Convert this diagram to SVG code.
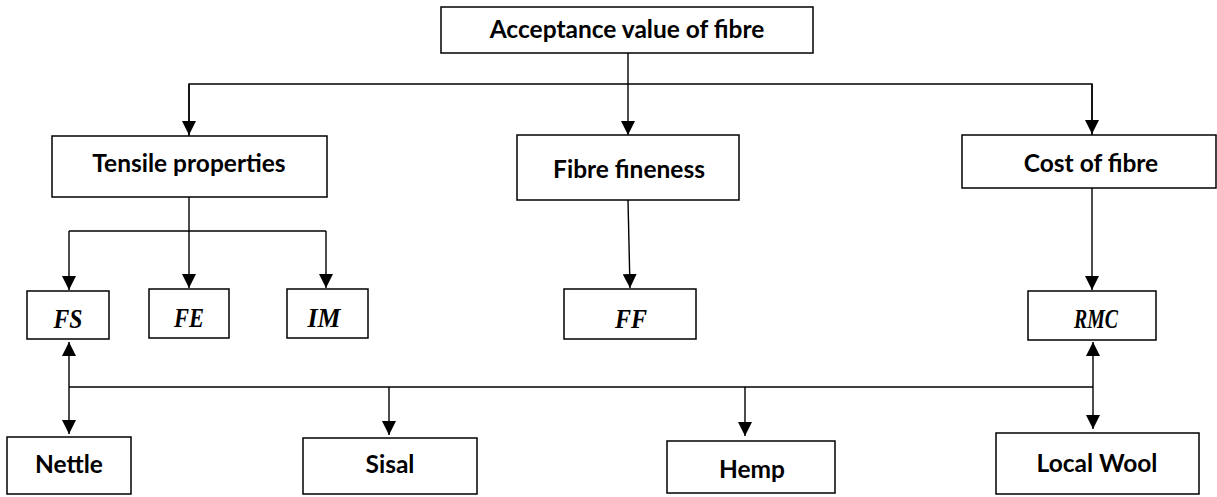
<svg xmlns="http://www.w3.org/2000/svg" width="1217" height="497" viewBox="0 0 1217 497">
<defs>
<marker id="ah" markerUnits="userSpaceOnUse" markerWidth="14" markerHeight="14" refX="14" refY="7" orient="auto-start-reverse" viewBox="0 0 14 14">
<path d="M0,0 L14,7 L0,14 z" fill="#000"/>
</marker>
<style>
.box{fill:#fff;stroke:#000;stroke-width:1.5}
.t{font-family:Lato,"Open Sans",sans-serif;font-weight:bold;font-size:24.5px;fill:#000;text-anchor:middle}
.m{font-family:"Liberation Serif","DejaVu Serif",serif;font-weight:bold;font-style:italic;font-size:28px;fill:#000;text-anchor:middle}
.c{fill:none;stroke:#000;stroke-width:1.4}
.a{marker-end:url(#ah)}
.b{marker-start:url(#ah);marker-end:url(#ah)}
</style>
</defs>
<rect width="1217" height="497" fill="#fff"/>
<g id="connectors">
<line class="c a" x1="628" y1="53" x2="628" y2="135"/>
<polyline class="c" points="189,136 189,84 1092,84 1092,135"/>
<line class="c a" x1="189" y1="84" x2="189" y2="135"/>
<line class="c a" x1="1092" y1="84" x2="1092" y2="134"/>
<line class="c a" x1="189" y1="197" x2="189" y2="288"/>
<line class="c" x1="69" y1="231" x2="326" y2="231"/>
<line class="c a" x1="69" y1="231" x2="69" y2="290"/>
<line class="c a" x1="326" y1="231" x2="326" y2="288"/>
<line class="c a" x1="628" y1="200" x2="630" y2="288"/>
<line class="c a" x1="1092" y1="188" x2="1092" y2="290"/>
<line class="c b" x1="69" y1="342" x2="69" y2="434"/>
<line class="c" x1="69" y1="387" x2="1093" y2="387"/>
<line class="c a" x1="389" y1="387" x2="389" y2="435"/>
<line class="c a" x1="745" y1="387" x2="745" y2="436"/>
<line class="c b" x1="1093" y1="342" x2="1093" y2="429"/>
</g>
<g id="acceptance"><rect class="box" x="441" y="7" width="372" height="46"/><text class="t" x="627" y="38">Acceptance value of fibre</text></g>
<g id="tensile"><rect class="box" x="52" y="136" width="275" height="61"/><text class="t" x="189" y="172">Tensile properties</text></g>
<g id="fineness"><rect class="box" x="517" y="135" width="222" height="65"/><text class="t" x="629" y="178">Fibre fineness</text></g>
<g id="cost"><rect class="box" x="962" y="135" width="254" height="53"/><text class="t" x="1091" y="172">Cost of fibre</text></g>
<g id="fs"><rect class="box" x="27" y="291" width="82" height="48"/><text class="m" x="68" y="328" textLength="29" lengthAdjust="spacingAndGlyphs">FS</text></g>
<g id="fe"><rect class="box" x="149" y="289" width="80" height="49"/><text class="m" x="189" y="327" textLength="30" lengthAdjust="spacingAndGlyphs">FE</text></g>
<g id="im"><rect class="box" x="287" y="289" width="81" height="49"/><text class="m" x="324" y="327" textLength="33" lengthAdjust="spacingAndGlyphs">IM</text></g>
<g id="ff"><rect class="box" x="564" y="289" width="132" height="50"/><text class="m" x="631" y="328" textLength="32" lengthAdjust="spacingAndGlyphs">FF</text></g>
<g id="rmc"><rect class="box" x="1028" y="291" width="128" height="49"/><text class="m" x="1096" y="328" textLength="44" lengthAdjust="spacingAndGlyphs">RMC</text></g>
<g id="nettle"><rect class="box" x="7" y="437" width="124" height="57"/><text class="t" x="69" y="473">Nettle</text></g>
<g id="sisal"><rect class="box" x="303" y="438" width="174" height="56"/><text class="t" x="390" y="473">Sisal</text></g>
<g id="hemp"><rect class="box" x="667" y="441" width="168" height="52"/><text class="t" x="752" y="478">Hemp</text></g>
<g id="wool"><rect class="box" x="996" y="433" width="203" height="61"/><text class="t" x="1097" y="472">Local Wool</text></g>
</svg>
